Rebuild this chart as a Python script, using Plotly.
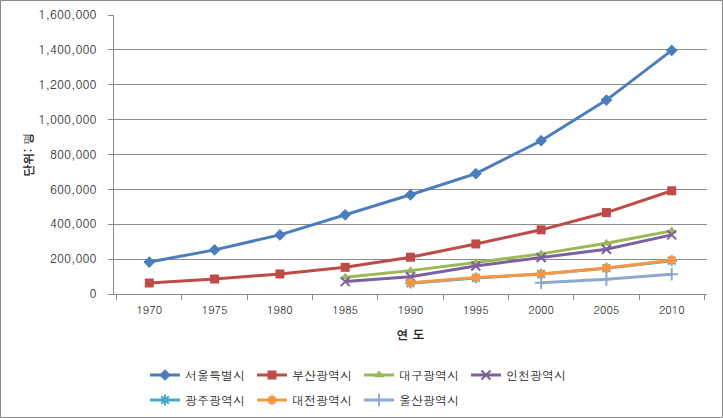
import plotly.graph_objects as go

years = ["1970", "1975", "1980", "1985", "1990", "1995", "2000", "2005", "2010"]

seoul = [183000, 253000, 339000, 454000, 569000, 690000, 879000, 1112000, 1397000]
busan = [63000, 86000, 115000, 153000, 211000, 287000, 368000, 467000, 592000]
daegu = [None, None, None, 96000, 134000, 180000, 230000, 291000, 362000]
incheon = [None, None, None, 71000, 99000, 161000, 209000, 257000, 339000]
gwangju = [None, None, None, None, 62000, 92000, 114000, 148000, 191000]
daejeon = [None, None, None, None, 65000, 94000, 115000, 149000, 194000]
ulsan = [None, None, None, None, None, None, 65000, 84000, 113000]

W, H = 723, 418
L, R, T, B = 114, 16, 15, 124

series = [
    ("서울특별시", seoul, "#4A7EBB", "diamond", 9, "legend"),
    ("부산광역시", busan, "#BE4B48", "square", 9, "legend"),
    ("대구광역시", daegu, "#98B954", "triangle-up", 9, "legend"),
    ("인천광역시", incheon, "#7D60A0", "x-thin-open", 9, "legend"),
    ("광주광역시", gwangju, "#46AAC5", "asterisk-open", 9, "legend2"),
    ("대전광역시", daejeon, "#F79646", "circle", 9, "legend2"),
    ("울산광역시", ulsan, "#8EA9D1", "cross-thin-open", 9, "legend2"),
]

fig = go.Figure()
for name, vals, color, sym, size, leg in series:
    fig.add_trace(go.Scatter(
        x=years, y=vals, name=name, mode="lines+markers",
        line=dict(color=color, width=3),
        marker=dict(symbol=sym, size=size, color=color,
                    line=dict(color=color, width=2 if "open" in sym else 0)),
        legend=leg,
    ))

font = "Dotum, Gulim, 'Noto Sans CJK KR', sans-serif"
pw = W - L - R
ph = H - T - B

legend_common = dict(
    orientation="h", xref="container", yref="container",
    x=145 / W, xanchor="left", yanchor="middle",
    font=dict(size=12), entrywidth=62, tracegroupgap=0,
    bgcolor="rgba(0,0,0,0)",
)

fig.update_layout(
    width=W, height=H,
    margin=dict(l=L, r=R, t=T, b=B, autoexpand=False),
    plot_bgcolor="white", paper_bgcolor="white",
    font=dict(family=font, size=12, color="#222"),
    showlegend=True,
    legend=dict(legend_common, y=(H - 375) / H),
    legend2=dict(legend_common, y=(H - 400) / H),
    xaxis=dict(
        type="category", tickson="boundaries", ticks="outside", ticklen=5,
        tickcolor="#888", showline=True, linecolor="#888", linewidth=1,
        showgrid=False, tickfont=dict(size=11), ticklabelstandoff=6,
        title=dict(text="<b>연 도</b>", font=dict(size=12), standoff=14),
    ),
    yaxis=dict(
        range=[0, 1600000], dtick=200000, tickformat=",d",
        ticks="outside", ticklen=5, tickcolor="#888",
        showline=True, linecolor="#888", linewidth=1,
        gridcolor="#8C8C8C", gridwidth=1, zeroline=False,
        tickfont=dict(size=12), ticklabelstandoff=9,
        title=dict(text="<b>단위: 명</b>", font=dict(size=12), standoff=2),
    ),
    shapes=[dict(
        type="rect", xref="paper", yref="paper",
        x0=(0.5 - L) / pw, x1=(W - 0.5 - L) / pw,
        y0=-(B - 0.5) / ph, y1=1 + (T - 0.5) / ph,
        line=dict(color="#888", width=1), fillcolor="rgba(0,0,0,0)",
        layer="below",
    )],
)

fig.write_html("out.html", config={"displayModeBar": False},
               post_script="document.body.style.margin='0';")
